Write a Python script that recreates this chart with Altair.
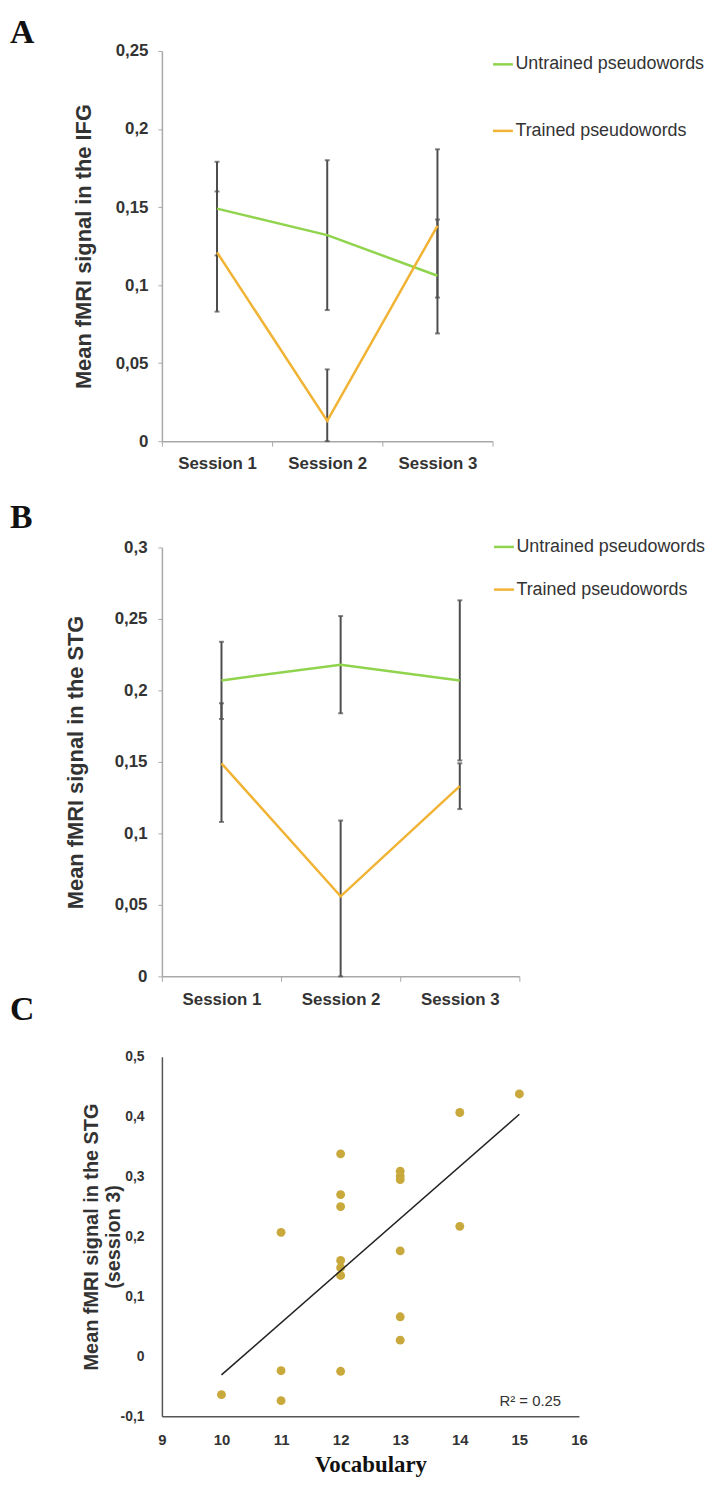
import altair as alt
import pandas as pd

sessions = ["Session 1", "Session 2", "Session 3"]
groups = ["Untrained pseudowords", "Trained pseudowords"]
colors = ["#8fd44c", "#f1b334"]

# Panel A (IFG)
a_untrained = [0.149, 0.132, 0.106]
a_untrained_lo = [0.119, 0.084, 0.069]
a_untrained_hi = [0.179, 0.180, 0.142]
a_trained = [0.121, 0.013, 0.138]
a_trained_lo = [0.083, 0.0, 0.092]
a_trained_hi = [0.160, 0.046, 0.187]
a_ticks = [0, 0.05, 0.1, 0.15, 0.2, 0.25]

# Panel B (STG)
b_untrained = [0.207, 0.218, 0.207]
b_untrained_lo = [0.180, 0.184, 0.151]
b_untrained_hi = [0.234, 0.252, 0.263]
b_trained = [0.149, 0.056, 0.133]
b_trained_lo = [0.108, 0.0, 0.117]
b_trained_hi = [0.191, 0.109, 0.149]
b_ticks = [0, 0.05, 0.1, 0.15, 0.2, 0.25, 0.3]

# Panel C (scatter)
vocab = [10, 11, 11, 11, 12, 12, 12, 12, 12, 12, 12, 13, 13, 13, 13, 13, 13, 14, 14, 15]
signal = [-0.064, 0.207, -0.024, -0.074, 0.338, 0.270, 0.250, 0.160, 0.148, 0.135, -0.025,
          0.309, 0.301, 0.295, 0.176, 0.066, 0.027, 0.407, 0.217, 0.438]
c_yticks = [-0.1, 0, 0.1, 0.2, 0.3, 0.4, 0.5]
c_xticks = [9, 10, 11, 12, 13, 14, 15, 16]
r2_label = "R\u00b2 = 0.25"

FONT = "Liberation Sans"
SERIF = "Liberation Serif"
fmt = "replace(replace(format(datum.value, '.2~f'), '.', ','), '\u2212', '-')"


def session_frame(unt, unt_lo, unt_hi, tr, tr_lo, tr_hi):
    rows = []
    for grp, vals, lo, hi in ((groups[0], unt, unt_lo, unt_hi), (groups[1], tr, tr_lo, tr_hi)):
        for s, v, l, h in zip(sessions, vals, lo, hi):
            rows.append({"session": s, "group": grp, "value": v, "lo": l, "hi": h})
    return pd.DataFrame(rows)


def session_panel(df, letter, letter_y, ytitle, yticks, width, height,
                  title_pad, label_pad, legend_x, legend_y, row_pad):
    xaxis = alt.Axis(title=None, labelAngle=0, labelFontSize=17, tickSize=5,
                     tickBand="extent", labelPadding=10, domainColor="#a8a8a8",
                     tickColor="#a8a8a8", domainWidth=1.5, labelFont=FONT,
                     labelFontWeight="bold", labelColor="#333333")
    yaxis = alt.Axis(title=ytitle, values=yticks, labelExpr=fmt, labelFontSize=17,
                     titleFontSize=22, tickSize=4, labelPadding=label_pad,
                     titlePadding=title_pad, grid=False, domainColor="#a8a8a8",
                     tickColor="#a8a8a8", domainWidth=1.5, labelFlush=False,
                     labelOverlap=False, labelFont=FONT, titleFont=FONT,
                     labelFontWeight="bold", titleFontWeight="bold",
                     labelColor="#333333", titleColor="#333333")
    xscale = alt.Scale(type="band", paddingInner=0, paddingOuter=0)
    yscale = alt.Scale(domain=[yticks[0], yticks[-1]], nice=False, zero=False)
    x = alt.X("session:N", sort=sessions, bandPosition=0.5, scale=xscale, axis=xaxis)
    base = alt.Chart(df)
    err = base.mark_rule(color="#4d4d4d", strokeWidth=2).encode(
        x=x, y=alt.Y("lo:Q", scale=yscale, axis=yaxis), y2="hi:Q")
    cap_lo = base.mark_tick(orient="horizontal", size=5, thickness=2, color="#4d4d4d").encode(
        x=x, y=alt.Y("lo:Q", scale=yscale, axis=yaxis))
    cap_hi = base.mark_tick(orient="horizontal", size=5, thickness=2, color="#4d4d4d").encode(
        x=x, y=alt.Y("hi:Q", scale=yscale, axis=yaxis))
    line = base.mark_line(strokeWidth=2.5).encode(
        x=x,
        y=alt.Y("value:Q", scale=yscale, axis=yaxis),
        color=alt.Color("group:N", scale=alt.Scale(domain=groups, range=colors),
                        legend=alt.Legend(title=None, orient="none", legendX=legend_x,
                                          legendY=legend_y, symbolType="stroke",
                                          symbolSize=400, symbolStrokeWidth=2.5,
                                          labelFontSize=18, labelFont=FONT,
                                          labelColor="#333333", rowPadding=row_pad,
                                          labelOffset=1, labelLimit=400)),
    )
    lab = alt.Chart(pd.DataFrame({"t": [letter]})).mark_text(
        font=SERIF, fontSize=34, fontWeight="bold", align="left", baseline="alphabetic",
        color="#111111").encode(x=alt.value(-153), y=alt.value(letter_y), text="t:N")
    return alt.layer(err, cap_lo, cap_hi, line, lab).properties(width=width, height=height)


df_a = session_frame(a_untrained, a_untrained_lo, a_untrained_hi, a_trained, a_trained_lo, a_trained_hi)
df_b = session_frame(b_untrained, b_untrained_lo, b_untrained_hi, b_trained, b_trained_lo, b_trained_hi)

panel_a = session_panel(df_a, "A", -8, "Mean fMRI signal in the IFG", a_ticks, 333, 393,
                        20, 10, 332, 2, 46)
panel_b = session_panel(df_b, "B", -20, "Mean fMRI signal in the STG", b_ticks, 360, 432,
                        27, 11, 333, -12, 22)

# Panel C
df_c = pd.DataFrame({"vocab": vocab, "signal": signal})
cx_axis = alt.Axis(title="Vocabulary", values=c_xticks, labelFontSize=15, ticks=False,
                   tickSize=0, labelPadding=16, titleFont=SERIF, titleFontSize=23,
                   titleFontWeight="bold", titlePadding=7, grid=False,
                   domainColor="#555555", domainWidth=1.5, labelFlush=False,
                   labelOverlap=False, labelFont=FONT, labelFontWeight="bold",
                   labelColor="#333333", titleColor="#111111")
cy_axis = alt.Axis(title=["Mean fMRI signal in the STG", "(session 3)"], values=c_yticks,
                   labelExpr=fmt, labelFontSize=14, ticks=False, tickSize=0,
                   labelPadding=18, titleFontSize=20, titlePadding=-3, grid=False,
                   domainColor="#555555", domainWidth=1.5, labelFlush=False,
                   labelOverlap=False, labelFont=FONT, titleFont=FONT,
                   labelFontWeight="bold", titleFontWeight="bold",
                   labelColor="#333333", titleColor="#333333")
cxs = alt.Scale(domain=[9, 16], nice=False, zero=False)
cys = alt.Scale(domain=[-0.1, 0.5], nice=False, zero=False)
base_c = alt.Chart(df_c)
pts = base_c.mark_circle(size=80, color="#c9a83c", opacity=1).encode(
    x=alt.X("vocab:Q", scale=cxs, axis=cx_axis),
    y=alt.Y("signal:Q", scale=cys, axis=cy_axis))
fit = base_c.transform_regression("vocab", "signal").mark_line(
    color="#222222", strokeWidth=1.5).encode(
    x=alt.X("vocab:Q", scale=cxs, axis=cx_axis),
    y=alt.Y("signal:Q", scale=cys, axis=cy_axis))
r2 = alt.Chart(pd.DataFrame({"t": [r2_label]})).mark_text(
    font=FONT, fontSize=15, align="left", baseline="middle", color="#333333").encode(
    x=alt.value(340), y=alt.value(347), text="t:N")
lab_c = alt.Chart(pd.DataFrame({"t": ["C"]})).mark_text(
    font=SERIF, fontSize=34, fontWeight="bold", align="left", baseline="alphabetic",
    color="#111111").encode(x=alt.value(-153), y=alt.value(-37), text="t:N")
panel_c = alt.layer(pts, fit, r2, lab_c).properties(width=420, height=362)


def spacer(h):
    return alt.Chart(pd.DataFrame({"s": [0]})).mark_point(opacity=0).encode(
        x=alt.value(0), y=alt.value(0)).properties(width=1, height=h)


chart = alt.vconcat(panel_a, spacer(107), panel_b, spacer(81), panel_c,
                    spacing=0, bounds="flush").resolve_scale(
    color="independent", x="independent", y="independent"
).resolve_legend(color="independent").properties(
    padding={"left": 2, "top": 3, "right": 5, "bottom": 5}
).configure(background="white").configure_view(strokeWidth=0, strokeOpacity=0)

chart.save("out.html", embed_options={"renderer": "svg", "actions": False})
